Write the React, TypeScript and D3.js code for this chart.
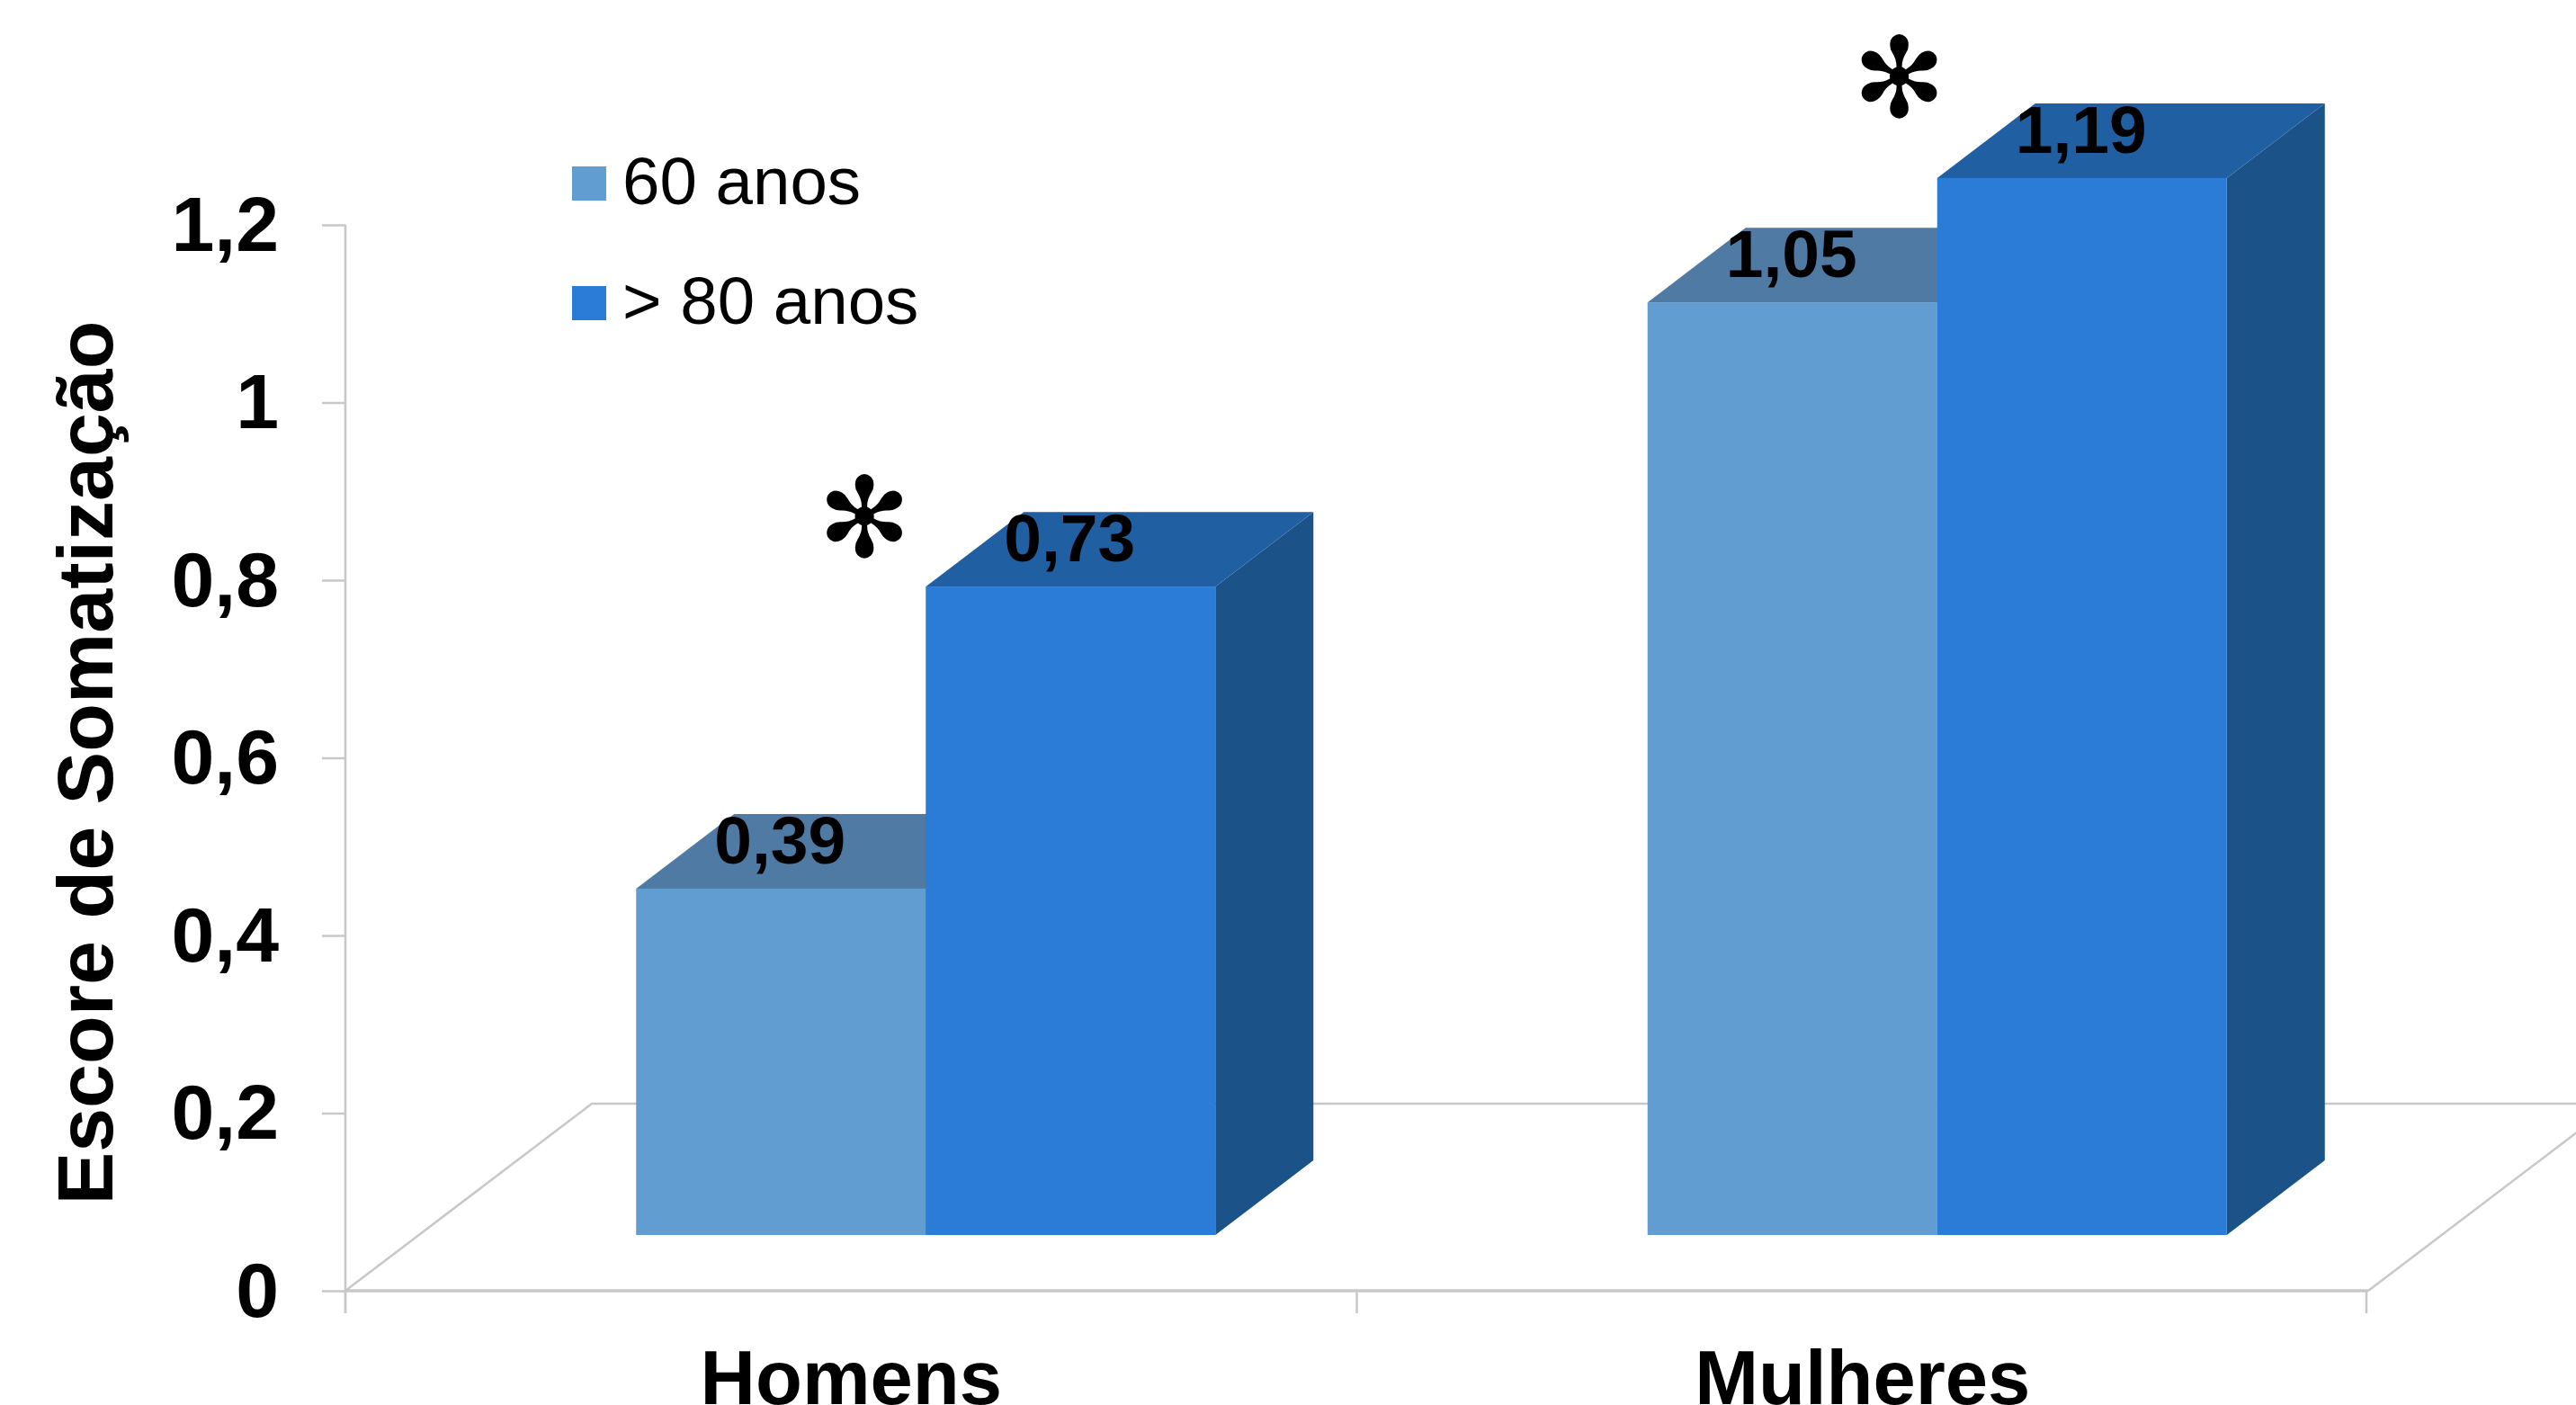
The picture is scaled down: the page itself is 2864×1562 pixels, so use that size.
import { useRef, useEffect } from 'react';
import * as d3 from 'd3';

const categories = ['Homens', 'Mulheres'];
const seriesNames = ['60 anos', '> 80 anos'];
const values60 = [0.39, 1.05];
const values80 = [0.73, 1.19];
const seriesValues = [values60, values80];
const valueLabels = [['0,39', '1,05'], ['0,73', '1,19']];
const yTicks = [0, 0.2, 0.4, 0.6, 0.8, 1, 1.2];
const frontColors = ['#619dd1', '#2a7cd7'];
const topColors = ['#4f7aa3', '#2060a2'];
const sideColors = ['#3f6a94', '#1b5287'];
const GRID = '#c8c8c8';
const FONT = '"Liberation Sans", Arial, sans-serif';

export default function App() {
  const svgRef = useRef<SVGSVGElement>(null);

  useEffect(() => {
    if (!svgRef.current) return;
    const svg = d3.select(svgRef.current);
    svg.selectAll('*').remove();

    const width = 2864;
    const height = 1562;
    const left = 384;
    const right = 2633;
    const y0 = 1435;
    const yTop = 250;

    // floor depth, bars stand 30% of the way back
    const floorDx = 274;
    const floorDy = 208;
    const barShiftX = 83;
    const barShiftY = 62;
    const depthX = 109;
    const depthY = 83;
    const barW = 322;

    svg.attr('viewBox', `0 0 ${width} ${height}`);

    const xScale = d3.scaleBand<string>().domain(categories).range([left, right]);
    const yScale = d3.scaleLinear().domain([0, 1.2]).range([y0, yTop]);
    const seriesScale = d3.scaleBand<number>().domain([0, 1]).range([-barW, barW]);

    // Floor
    const floor = svg.append('g').attr('fill', 'none').attr('stroke', GRID).attr('stroke-width', 2.5);
    floor.append('path').attr('d', `M${left},${y0}L${left + floorDx},${y0 - floorDy}L${right + floorDx},${y0 - floorDy}L${right},${y0}`);

    // Axes
    const yAxis = svg.append('g')
      .attr('transform', `translate(${left},0)`)
      .call(d3.axisLeft(yScale).tickValues(yTicks).tickSize(26).tickPadding(48).tickFormat((d) => String(d).replace('.', ',')));
    yAxis.select('.domain').remove();
    yAxis.selectAll('line').attr('stroke', GRID).attr('stroke-width', 2.5);
    yAxis.selectAll('text')
      .attr('fill', '#000').attr('dy', null).attr('y', 28)
      .style('font-family', FONT).style('font-size', '86px').style('font-weight', 'bold');
    svg.append('line')
      .attr('x1', left).attr('x2', left).attr('y1', yTop).attr('y2', y0 + 25)
      .attr('stroke', GRID).attr('stroke-width', 2.5);

    const xAxis = svg.append('g')
      .attr('transform', `translate(0,${y0})`)
      .call(d3.axisBottom(xScale).tickSize(0).tickPadding(0));
    xAxis.select('.domain').remove();
    xAxis.selectAll('text')
      .attr('fill', '#000').attr('dy', null).attr('y', 126)
      .style('font-family', FONT).style('font-size', '85px').style('font-weight', 'bold');
    svg.append('line')
      .attr('x1', left).attr('x2', right).attr('y1', y0).attr('y2', y0)
      .attr('stroke', GRID).attr('stroke-width', 3.5);
    [left, left + xScale.bandwidth(), right - 2].forEach((x) => {
      svg.append('line')
        .attr('x1', x).attr('x2', x).attr('y1', y0).attr('y2', y0 + 25)
        .attr('stroke', GRID).attr('stroke-width', 2.5);
    });

    // Bars
    const bars = svg.append('g');
    categories.forEach((cat, c) => {
      const center = xScale(cat)! + xScale.bandwidth() / 2 + barShiftX;
      seriesValues.forEach((vals, s) => {
        const x0 = center + seriesScale(s)!;
        const x1 = x0 + barW;
        const top = yScale(vals[c]) - barShiftY;
        const bottom = yScale(0) - barShiftY;
        const p = d3.path();
        p.moveTo(x1, top);
        p.lineTo(x1 + depthX, top - depthY);
        p.lineTo(x1 + depthX, bottom - depthY);
        p.lineTo(x1, bottom);
        p.closePath();
        bars.append('path').attr('d', p.toString()).attr('fill', sideColors[s]);
        const t = d3.path();
        t.moveTo(x0, top);
        t.lineTo(x0 + depthX, top - depthY);
        t.lineTo(x1 + depthX, top - depthY);
        t.lineTo(x1, top);
        t.closePath();
        bars.append('path').attr('d', t.toString()).attr('fill', topColors[s]);
        bars.append('rect')
          .attr('x', x0).attr('y', top)
          .attr('width', barW).attr('height', bottom - top)
          .attr('fill', frontColors[s]);
      });
    });

    // Value labels go on top of every bar
    categories.forEach((cat, c) => {
      const center = xScale(cat)! + xScale.bandwidth() / 2 + barShiftX;
      seriesValues.forEach((vals, s) => {
        svg.append('text')
          .attr('x', center + seriesScale(s)! + barW / 2 - 1)
          .attr('y', yScale(vals[c]) - barShiftY - 28)
          .attr('text-anchor', 'middle')
          .attr('fill', '#000')
          .style('font-family', FONT).style('font-size', '75px').style('font-weight', 'bold')
          .text(valueLabels[s][c]);
      });
    });

    // Significance marks, placed by hand above the taller bar
    const markDx = [-68, -42];
    const markDy = [-33, -68];
    categories.forEach((cat, c) => {
      const center = xScale(cat)! + xScale.bandwidth() / 2 + barShiftX;
      svg.append('text')
        .attr('x', center + markDx[c])
        .attr('y', yScale(values80[c]) - barShiftY + markDy[c])
        .attr('text-anchor', 'middle')
        .attr('fill', '#000')
        .style('font-family', '"DejaVu Sans"').style('font-size', '124px')
        .text('\u273B');
    });

    // Legend
    seriesNames.forEach((name, i) => {
      const ly = 185 + i * 133;
      svg.append('rect').attr('x', 636).attr('y', ly).attr('width', 38).attr('height', 38).attr('fill', frontColors[i]);
      svg.append('text')
        .attr('x', 692).attr('y', ly + 42)
        .attr('fill', '#000')
        .style('font-family', FONT).style('font-size', '74.5px')
        .text(name);
    });

    // Axis title
    svg.append('text')
      .attr('transform', `translate(125, 848) rotate(-90)`)
      .attr('text-anchor', 'middle')
      .attr('fill', '#000')
      .style('font-family', FONT).style('font-size', '88px').style('font-weight', 'bold')
      .text('Escore de Somatização');
  }, []);

  return <svg ref={svgRef} width={2864} height={1562} style={{ position: 'absolute', left: 0, top: 0, background: '#fff' }} />;
}
